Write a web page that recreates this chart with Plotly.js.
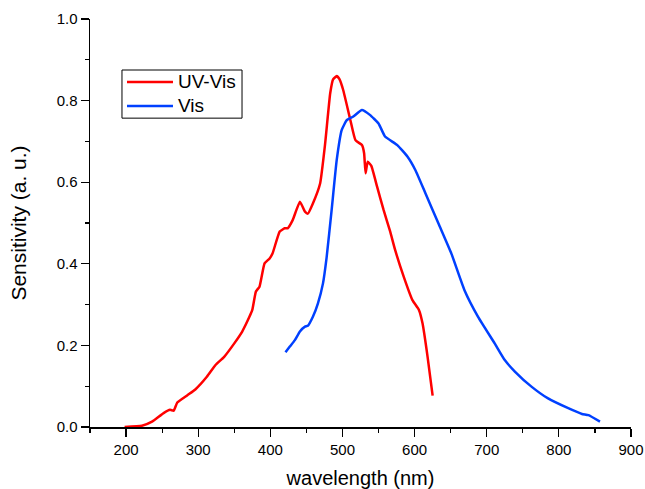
<!DOCTYPE html>
<html><head><meta charset="utf-8">
<script src="https://cdn.plot.ly/plotly-3.0.1.min.js"></script>
<style>html,body{margin:0;padding:0;background:#fff}#chart{width:645px;height:489px}</style>
</head><body><div id="chart"></div>
<script>
const uvVisX = [198,222,236,252,261,266,271,285,296,312,324,336,350,361,371,375,380,385,392,399,403,413,420,424,431,441,448,452,459,469,476,483,487,492,496,501,511,518,527,530,532,535,540,548,557,566,573,585,597,606,611,618,625];
const uvVisY = [0,0.003,0.013,0.034,0.042,0.040,0.060,0.078,0.092,0.123,0.152,0.172,0.205,0.234,0.270,0.287,0.332,0.344,0.401,0.413,0.425,0.479,0.487,0.487,0.507,0.552,0.528,0.523,0.548,0.597,0.695,0.818,0.852,0.860,0.852,0.826,0.752,0.703,0.691,0.671,0.622,0.650,0.640,0.589,0.532,0.480,0.434,0.368,0.311,0.287,0.254,0.172,0.077];
const visX = [421,427,434,441,448,452,459,466,473,478,485,492,499,506,515,527,538,550,559,576,590,601,615,634,651,669,688,711,725,739,762,785,813,832,841,857];
const visY = [0.183,0.197,0.213,0.234,0.246,0.248,0.270,0.303,0.352,0.415,0.532,0.654,0.728,0.752,0.761,0.777,0.765,0.744,0.712,0.691,0.663,0.630,0.573,0.495,0.425,0.336,0.270,0.205,0.164,0.136,0.099,0.070,0.046,0.032,0.029,0.013];
const seriesNames = ['UV-Vis','Vis'];
const seriesColors = ['#ff0000','#0040ff'];
const xTitle = 'wavelength (nm)';
const yTitle = 'Sensitivity (a. u.)';

const font = 'Liberation Sans, Arial, sans-serif';
const traces = [
  {x: uvVisX, y: uvVisY, name: seriesNames[0], mode:'lines', line:{color:seriesColors[0], width:2.5, shape:'spline', smoothing:0.4}},
  {x: visX, y: visY, name: seriesNames[1], mode:'lines', line:{color:seriesColors[1], width:2.5, shape:'spline', smoothing:0.4}}
];

// Legend drawn as a box with sample lines and text labels (paper coordinates)
const legendRowsY = [0.8456, 0.7868];
const shapes = [{type:'rect', xref:'paper', yref:'paper', x0:0.0591, x1:0.281, y0:0.757, y1:0.875, line:{color:'#000', width:1}, fillcolor:'#fff', layer:'above'}];
const annotations = [];
seriesNames.forEach((n, i) => {
  shapes.push({type:'line', xref:'paper', yref:'paper', x0:0.0684, x1:0.1534, y0:legendRowsY[i], y1:legendRowsY[i], line:{color:seriesColors[i], width:2.5}, layer:'above'});
  annotations.push({xref:'paper', yref:'paper', x:0.1627, y:legendRowsY[i], xanchor:'left', yanchor:'middle', text:n, showarrow:false, font:{size:19, family:font, color:'#000'}, xshift:-2});
});

const layout = {
  width:645, height:489,
  margin:{l:90, r:14, t:19, b:62},
  paper_bgcolor:'#fff', plot_bgcolor:'#fff',
  font:{family:font, color:'#000'},
  showlegend:false,
  shapes: shapes,
  annotations: annotations,
  xaxis:{range:[150,900], dtick:100, tick0:0, ticks:'outside', ticklen:8, tickwidth:1.2, tickcolor:'#000',
    showline:true, linecolor:'#000', linewidth:1.5, showgrid:false, zeroline:false,
    tickfont:{size:15, family:font},
    minor:{dtick:50, tick0:0, ticks:'outside', ticklen:4, tickwidth:1.2, tickcolor:'#000', showgrid:false},
    title:{text:xTitle, font:{size:20, family:font}, standoff:15}},
  yaxis:{range:[0,1], dtick:0.2, tick0:0, tickformat:'.1f', ticks:'outside', ticklen:8, tickwidth:1.2, tickcolor:'#000',
    showline:true, linecolor:'#000', linewidth:1.5, showgrid:false, zeroline:false,
    tickfont:{size:15, family:font},
    minor:{dtick:0.1, tick0:0, ticks:'outside', ticklen:4, tickwidth:1.2, tickcolor:'#000', showgrid:false},
    title:{text:yTitle, font:{size:21, family:font}, standoff:24}}
};
Plotly.newPlot('chart', traces, layout, {displayModeBar:false, staticPlot:true});
</script></body></html>
